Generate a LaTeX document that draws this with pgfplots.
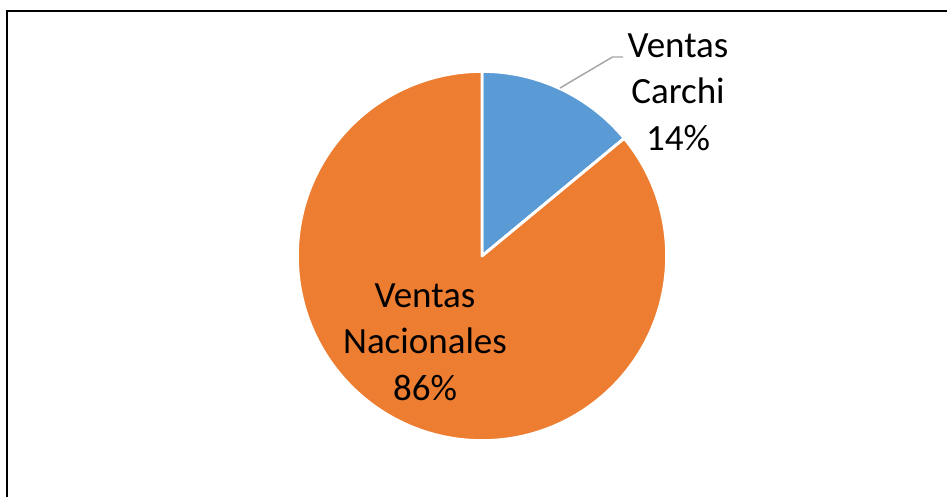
\documentclass[border=0pt]{standalone}
\usepackage{pgfplots}
\usepackage{pgfplotstable}
\usepackage{fontspec}
\setmainfont{Carlito}
\pgfplotsset{compat=1.18}
\definecolor{pieblue}{HTML}{5B9BD5}
\definecolor{pieorange}{HTML}{ED7D31}
\definecolor{leader}{HTML}{A6A6A6}
\pgfplotstableread{
label value
Carchi 14
Nacionales 86
}\piedata
\begin{document}
\begin{tikzpicture}
\pgfplotstablegetelem{0}{value}\of\piedata \pgfmathsetmacro\va{\pgfplotsretval}
\pgfplotstablegetelem{1}{value}\of\piedata \pgfmathsetmacro\vb{\pgfplotsretval}
\pgfmathsetmacro\tot{\va+\vb}
\pgfmathsetmacro\aend{90-360*(\va/\tot)}
\pgfmathsetmacro\bend{\aend-360*(\vb/\tot)}
\begin{axis}[hide axis, scale only axis, x=0.75pt, y=0.75pt,
  xmin=0, xmax=947, ymin=0, ymax=497]
  % frame
  \draw[black, line width=1.5pt] (axis cs:6.5,0) -- (axis cs:6.5,485.5) -- (axis cs:947,485.5);
  % slices
  \filldraw[fill=pieblue, draw=white, line width=2.2pt, line join=round]
    (axis cs:482,241) -- ++(90:138.5pt) arc[start angle=90, end angle=\aend, radius=138.5pt] -- cycle;
  \filldraw[fill=pieorange, draw=white, line width=2.2pt, line join=round]
    (axis cs:482,241) -- ++(\aend:138.5pt) arc[start angle=\aend, end angle=\bend, radius=138.5pt] -- cycle;
  % leader line
  \draw[leader, line width=1.1pt] (axis cs:560,409) -- (axis cs:612.5,440) -- (axis cs:623,440);
  % labels
  \node[align=center, font=\fontsize{27.75}{35}\selectfont, inner sep=0pt]
    at (axis cs:678,405) {Ventas\\Carchi\\14\%};
  \node[align=center, font=\fontsize{27.75}{35}\selectfont, inner sep=0pt]
    at (axis cs:425,155) {Ventas\\Nacionales\\86\%};
\end{axis}
\pgfresetboundingbox
\path (0,0) rectangle (710.25pt,372.75pt);
\end{tikzpicture}
\end{document}
